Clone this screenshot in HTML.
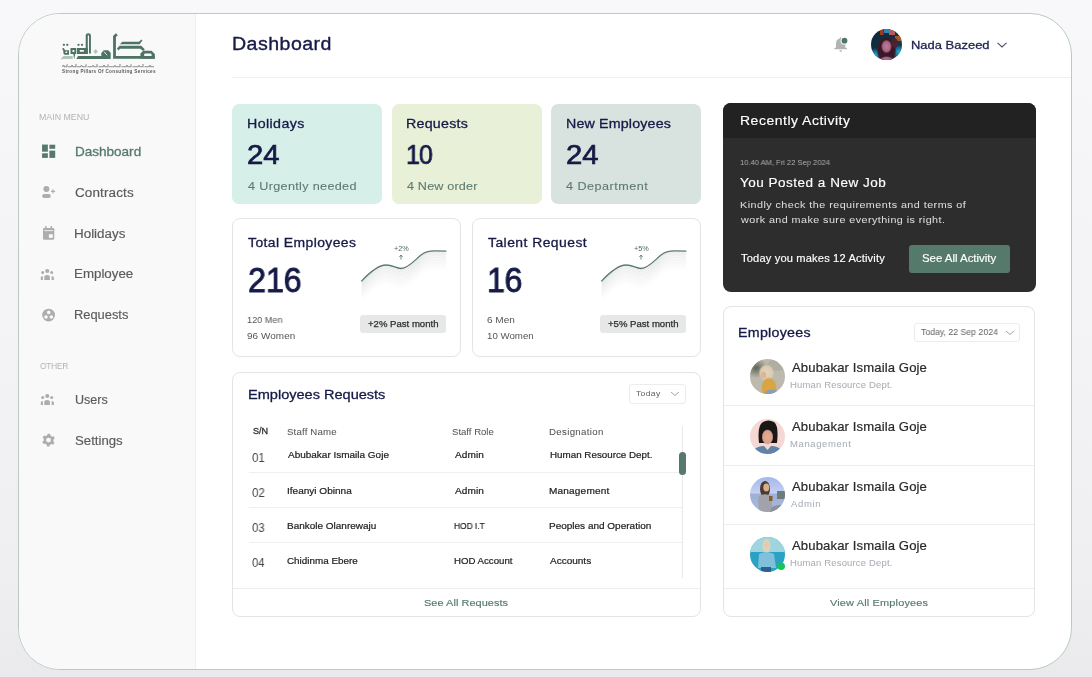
<!DOCTYPE html><html><head><meta charset="utf-8"><style>
*{margin:0;padding:0;box-sizing:border-box}
html,body{width:1092px;height:677px;overflow:hidden}
body{position:relative;background:linear-gradient(#f8f8fa,#f3f3f5 50%,#efeff1 85%,#eaeaec);font-family:"Liberation Sans",sans-serif}
.t{position:absolute;white-space:pre;will-change:transform;font-family:"Liberation Sans",sans-serif}
svg{position:absolute;overflow:visible}
</style></head><body><div style="position:absolute;left:18px;top:13px;width:1054px;height:657px;border:1px solid #b9cbc4;border-radius:42px;background:#fff;overflow:hidden"></div>
<div style="position:absolute;left:19px;top:14px;width:1052px;height:655px;border-radius:41px;overflow:hidden"><div style="position:absolute;left:0;top:0;width:177px;height:655px;background:#f9f9f9;border-right:1px solid #efefef"></div></div>
<div style="position:absolute;left:232px;top:77px;width:839px;height:1px;background:#f0f0f0"></div>
<div style="position:absolute;left:232px;top:104px;width:150px;height:100px;background:#d6efe9;border-radius:7px"></div>
<div style="position:absolute;left:392px;top:104px;width:150px;height:100px;background:#e9f0d8;border-radius:7px"></div>
<div style="position:absolute;left:551px;top:104px;width:150px;height:100px;background:#d8e3e0;border-radius:7px"></div>
<div style="position:absolute;left:232px;top:218px;width:229px;height:139px;border:1px solid #e4e4e4;border-radius:8px;background:#fff"></div>
<div style="position:absolute;left:472px;top:218px;width:229px;height:139px;border:1px solid #e4e4e4;border-radius:8px;background:#fff"></div>
<div style="position:absolute;left:360px;top:315px;width:86px;height:18px;background:#e6e8e7;border-radius:3px"></div>
<div style="position:absolute;left:600px;top:315px;width:86px;height:18px;background:#e6e8e7;border-radius:3px"></div>
<svg style="left:355px;top:240px" width="100" height="60" viewBox="0 0 100 60">
<clipPath id="sc0"><rect x="6.3" y="0" width="85.1" height="60"/></clipPath>
<g clip-path="url(#sc0)"><path d="M6.3 41.4 C16 31 24 25 31 25 C38 25 41 28.5 46 28.5 C53 28.5 60 20 66 15 C70 11.5 74 10.8 80 10.8 C85 10.8 89 11 91.4 11.2" transform="translate(0,1.0)" fill="none" stroke="#5a6a64" stroke-opacity="0.0750" stroke-width="2.2"/><path d="M6.3 41.4 C16 31 24 25 31 25 C38 25 41 28.5 46 28.5 C53 28.5 60 20 66 15 C70 11.5 74 10.8 80 10.8 C85 10.8 89 11 91.4 11.2" transform="translate(0,2.6)" fill="none" stroke="#5a6a64" stroke-opacity="0.0687" stroke-width="2.2"/><path d="M6.3 41.4 C16 31 24 25 31 25 C38 25 41 28.5 46 28.5 C53 28.5 60 20 66 15 C70 11.5 74 10.8 80 10.8 C85 10.8 89 11 91.4 11.2" transform="translate(0,4.2)" fill="none" stroke="#5a6a64" stroke-opacity="0.0625" stroke-width="2.2"/><path d="M6.3 41.4 C16 31 24 25 31 25 C38 25 41 28.5 46 28.5 C53 28.5 60 20 66 15 C70 11.5 74 10.8 80 10.8 C85 10.8 89 11 91.4 11.2" transform="translate(0,5.8)" fill="none" stroke="#5a6a64" stroke-opacity="0.0562" stroke-width="2.2"/><path d="M6.3 41.4 C16 31 24 25 31 25 C38 25 41 28.5 46 28.5 C53 28.5 60 20 66 15 C70 11.5 74 10.8 80 10.8 C85 10.8 89 11 91.4 11.2" transform="translate(0,7.4)" fill="none" stroke="#5a6a64" stroke-opacity="0.0500" stroke-width="2.2"/><path d="M6.3 41.4 C16 31 24 25 31 25 C38 25 41 28.5 46 28.5 C53 28.5 60 20 66 15 C70 11.5 74 10.8 80 10.8 C85 10.8 89 11 91.4 11.2" transform="translate(0,9.0)" fill="none" stroke="#5a6a64" stroke-opacity="0.0437" stroke-width="2.2"/><path d="M6.3 41.4 C16 31 24 25 31 25 C38 25 41 28.5 46 28.5 C53 28.5 60 20 66 15 C70 11.5 74 10.8 80 10.8 C85 10.8 89 11 91.4 11.2" transform="translate(0,10.6)" fill="none" stroke="#5a6a64" stroke-opacity="0.0375" stroke-width="2.2"/><path d="M6.3 41.4 C16 31 24 25 31 25 C38 25 41 28.5 46 28.5 C53 28.5 60 20 66 15 C70 11.5 74 10.8 80 10.8 C85 10.8 89 11 91.4 11.2" transform="translate(0,12.2)" fill="none" stroke="#5a6a64" stroke-opacity="0.0312" stroke-width="2.2"/><path d="M6.3 41.4 C16 31 24 25 31 25 C38 25 41 28.5 46 28.5 C53 28.5 60 20 66 15 C70 11.5 74 10.8 80 10.8 C85 10.8 89 11 91.4 11.2" transform="translate(0,13.8)" fill="none" stroke="#5a6a64" stroke-opacity="0.0250" stroke-width="2.2"/><path d="M6.3 41.4 C16 31 24 25 31 25 C38 25 41 28.5 46 28.5 C53 28.5 60 20 66 15 C70 11.5 74 10.8 80 10.8 C85 10.8 89 11 91.4 11.2" transform="translate(0,15.4)" fill="none" stroke="#5a6a64" stroke-opacity="0.0187" stroke-width="2.2"/><path d="M6.3 41.4 C16 31 24 25 31 25 C38 25 41 28.5 46 28.5 C53 28.5 60 20 66 15 C70 11.5 74 10.8 80 10.8 C85 10.8 89 11 91.4 11.2" transform="translate(0,17.0)" fill="none" stroke="#5a6a64" stroke-opacity="0.0125" stroke-width="2.2"/><path d="M6.3 41.4 C16 31 24 25 31 25 C38 25 41 28.5 46 28.5 C53 28.5 60 20 66 15 C70 11.5 74 10.8 80 10.8 C85 10.8 89 11 91.4 11.2" transform="translate(0,18.6)" fill="none" stroke="#5a6a64" stroke-opacity="0.0063" stroke-width="2.2"/></g>
<path d="M6.3 41.4 C16 31 24 25 31 25 C38 25 41 28.5 46 28.5 C53 28.5 60 20 66 15 C70 11.5 74 10.8 80 10.8 C85 10.8 89 11 91.4 11.2" fill="none" stroke="#5a7a6e" stroke-width="1.3"/>
<path d="M46 19.6 L46 15.3 M44.4 16.9 L46 15.1 L47.6 16.9" fill="none" stroke="#4a6a5e" stroke-width="0.8"/>
</svg>
<svg style="left:595px;top:240px" width="100" height="60" viewBox="0 0 100 60">
<clipPath id="sc240"><rect x="6.3" y="0" width="85.1" height="60"/></clipPath>
<g clip-path="url(#sc240)"><path d="M6.3 41.4 C16 31 24 25 31 25 C38 25 41 28.5 46 28.5 C53 28.5 60 20 66 15 C70 11.5 74 10.8 80 10.8 C85 10.8 89 11 91.4 11.2" transform="translate(0,1.0)" fill="none" stroke="#5a6a64" stroke-opacity="0.0750" stroke-width="2.2"/><path d="M6.3 41.4 C16 31 24 25 31 25 C38 25 41 28.5 46 28.5 C53 28.5 60 20 66 15 C70 11.5 74 10.8 80 10.8 C85 10.8 89 11 91.4 11.2" transform="translate(0,2.6)" fill="none" stroke="#5a6a64" stroke-opacity="0.0687" stroke-width="2.2"/><path d="M6.3 41.4 C16 31 24 25 31 25 C38 25 41 28.5 46 28.5 C53 28.5 60 20 66 15 C70 11.5 74 10.8 80 10.8 C85 10.8 89 11 91.4 11.2" transform="translate(0,4.2)" fill="none" stroke="#5a6a64" stroke-opacity="0.0625" stroke-width="2.2"/><path d="M6.3 41.4 C16 31 24 25 31 25 C38 25 41 28.5 46 28.5 C53 28.5 60 20 66 15 C70 11.5 74 10.8 80 10.8 C85 10.8 89 11 91.4 11.2" transform="translate(0,5.8)" fill="none" stroke="#5a6a64" stroke-opacity="0.0562" stroke-width="2.2"/><path d="M6.3 41.4 C16 31 24 25 31 25 C38 25 41 28.5 46 28.5 C53 28.5 60 20 66 15 C70 11.5 74 10.8 80 10.8 C85 10.8 89 11 91.4 11.2" transform="translate(0,7.4)" fill="none" stroke="#5a6a64" stroke-opacity="0.0500" stroke-width="2.2"/><path d="M6.3 41.4 C16 31 24 25 31 25 C38 25 41 28.5 46 28.5 C53 28.5 60 20 66 15 C70 11.5 74 10.8 80 10.8 C85 10.8 89 11 91.4 11.2" transform="translate(0,9.0)" fill="none" stroke="#5a6a64" stroke-opacity="0.0437" stroke-width="2.2"/><path d="M6.3 41.4 C16 31 24 25 31 25 C38 25 41 28.5 46 28.5 C53 28.5 60 20 66 15 C70 11.5 74 10.8 80 10.8 C85 10.8 89 11 91.4 11.2" transform="translate(0,10.6)" fill="none" stroke="#5a6a64" stroke-opacity="0.0375" stroke-width="2.2"/><path d="M6.3 41.4 C16 31 24 25 31 25 C38 25 41 28.5 46 28.5 C53 28.5 60 20 66 15 C70 11.5 74 10.8 80 10.8 C85 10.8 89 11 91.4 11.2" transform="translate(0,12.2)" fill="none" stroke="#5a6a64" stroke-opacity="0.0312" stroke-width="2.2"/><path d="M6.3 41.4 C16 31 24 25 31 25 C38 25 41 28.5 46 28.5 C53 28.5 60 20 66 15 C70 11.5 74 10.8 80 10.8 C85 10.8 89 11 91.4 11.2" transform="translate(0,13.8)" fill="none" stroke="#5a6a64" stroke-opacity="0.0250" stroke-width="2.2"/><path d="M6.3 41.4 C16 31 24 25 31 25 C38 25 41 28.5 46 28.5 C53 28.5 60 20 66 15 C70 11.5 74 10.8 80 10.8 C85 10.8 89 11 91.4 11.2" transform="translate(0,15.4)" fill="none" stroke="#5a6a64" stroke-opacity="0.0187" stroke-width="2.2"/><path d="M6.3 41.4 C16 31 24 25 31 25 C38 25 41 28.5 46 28.5 C53 28.5 60 20 66 15 C70 11.5 74 10.8 80 10.8 C85 10.8 89 11 91.4 11.2" transform="translate(0,17.0)" fill="none" stroke="#5a6a64" stroke-opacity="0.0125" stroke-width="2.2"/><path d="M6.3 41.4 C16 31 24 25 31 25 C38 25 41 28.5 46 28.5 C53 28.5 60 20 66 15 C70 11.5 74 10.8 80 10.8 C85 10.8 89 11 91.4 11.2" transform="translate(0,18.6)" fill="none" stroke="#5a6a64" stroke-opacity="0.0063" stroke-width="2.2"/></g>
<path d="M6.3 41.4 C16 31 24 25 31 25 C38 25 41 28.5 46 28.5 C53 28.5 60 20 66 15 C70 11.5 74 10.8 80 10.8 C85 10.8 89 11 91.4 11.2" fill="none" stroke="#5a7a6e" stroke-width="1.3"/>
<path d="M46 19.6 L46 15.3 M44.4 16.9 L46 15.1 L47.6 16.9" fill="none" stroke="#4a6a5e" stroke-width="0.8"/>
</svg>
<div style="position:absolute;left:232px;top:372px;width:469px;height:245px;border:1px solid #e4e4e4;border-radius:8px;background:#fff"></div>
<div style="position:absolute;left:233px;top:588px;width:467px;height:1px;background:#ececec"></div>
<div style="position:absolute;left:629px;top:384px;width:57px;height:20px;border:1px solid #ececec;border-radius:3px"></div>
<svg style="left:670px;top:391px" width="10" height="6" viewBox="0 0 10 6"><path d="M1 1 L5 4.5 L9 1" fill="none" stroke="#9a9a9a" stroke-width="0.9"/></svg>
<div style="position:absolute;left:249px;top:472px;width:434px;height:1px;background:#efefef"></div>
<div style="position:absolute;left:249px;top:507px;width:434px;height:1px;background:#efefef"></div>
<div style="position:absolute;left:249px;top:542px;width:434px;height:1px;background:#efefef"></div>
<div style="position:absolute;left:682px;top:426px;width:1px;height:152px;background:#e8e8e8"></div>
<div style="position:absolute;left:679px;top:452px;width:7px;height:23px;background:#557a6c;border-radius:3.5px"></div>
<div style="position:absolute;left:723px;top:103px;width:312.5px;height:189px;background:#2d2d2d;border-radius:8px;overflow:hidden"></div>
<div style="position:absolute;left:723px;top:103px;width:312.5px;height:35px;background:#222222;border-radius:8px 8px 0 0"></div>
<div style="position:absolute;left:909px;top:245px;width:101px;height:28px;background:#557a6c;border-radius:3px"></div>
<div style="position:absolute;left:723px;top:306px;width:312px;height:311px;border:1px solid #e4e4e4;border-radius:8px;background:#fff"></div>
<div style="position:absolute;left:914px;top:323px;width:106px;height:19px;border:1px solid #ececec;border-radius:3px"></div>
<svg style="left:1005px;top:330px" width="10" height="6" viewBox="0 0 10 6"><path d="M1 1 L5 4.5 L9 1" fill="none" stroke="#9a9a9a" stroke-width="0.9"/></svg>
<div style="position:absolute;left:724px;top:405px;width:310px;height:1px;background:#ececec"></div>
<div style="position:absolute;left:724px;top:465px;width:310px;height:1px;background:#ececec"></div>
<div style="position:absolute;left:724px;top:524px;width:310px;height:1px;background:#ececec"></div>
<div style="position:absolute;left:724px;top:588px;width:310px;height:1px;background:#ececec"></div>
<svg style="left:0;top:0" width="1" height="1">
<rect x="42.06" y="144.55" width="5.8" height="7.15" fill="#557a6c" />
<rect x="42.06" y="153.3" width="5.8" height="4.6" fill="#557a6c" />
<rect x="49.4" y="144.7" width="5.8" height="4.1" fill="#557a6c" />
<rect x="49.4" y="150.6" width="5.8" height="7.3" fill="#557a6c" />
<circle cx="46.4" cy="189.1" r="3.0" fill="#adadad"/>
<rect x="42.1" y="193.9" width="8.7" height="4" rx="2" fill="#adadad"/>
<path d="M51 191.4 H55.1 M53 189.3 V193.5" stroke="#adadad" stroke-width="1.1"/>
<rect x="43" y="228" width="11.25" height="11.8" rx="1.3" fill="#adadad"/>
<rect x="45.1" y="226" width="1.5" height="3" rx="0.5" fill="#adadad"/>
<rect x="50.6" y="226" width="1.5" height="3" rx="0.5" fill="#adadad"/>
<rect x="44.2" y="230.3" width="8.8" height="0.8" fill="#f9f9f9"/>
<rect x="48.9" y="234.2" width="3.9" height="3.7" fill="#f9f9f9"/>
<g fill="#adadad">
<circle cx="47.26" cy="271" r="2.1"/><circle cx="42.7" cy="272.4" r="1.5"/><circle cx="51.7" cy="272.4" r="1.5"/>
<path d="M44.3 279.9 V277 Q44.3 275 47.1 275 Q49.9 275 49.9 277 V279.9 Z"/>
<path d="M40.8 279.9 V277.6 Q40.8 276 42.9 276 V279.9 Z"/>
<path d="M53.9 279.9 V277.6 Q53.9 276 51.6 276 V279.9 Z"/>
</g>
<g fill="#adadad" transform="translate(0,125)">
<circle cx="47.26" cy="271" r="2.1"/><circle cx="42.7" cy="272.4" r="1.5"/><circle cx="51.7" cy="272.4" r="1.5"/>
<path d="M44.3 279.9 V277 Q44.3 275 47.1 275 Q49.9 275 49.9 277 V279.9 Z"/>
<path d="M40.8 279.9 V277.6 Q40.8 276 42.9 276 V279.9 Z"/>
<path d="M53.9 279.9 V277.6 Q53.9 276 51.6 276 V279.9 Z"/>
</g>
<circle cx="48.6" cy="315.05" r="6.4" fill="#adadad"/>
<circle cx="48.7" cy="312.4" r="1.8" fill="#f9f9f9"/>
<circle cx="46" cy="317" r="1.8" fill="#f9f9f9"/>
<circle cx="51.3" cy="317" r="1.8" fill="#f9f9f9"/>
</svg>
<svg style="left:0;top:0" width="1" height="1"><path fill-rule="evenodd" fill="#adadad" d="M48.56,433.70 L49.40,433.75 L50.22,433.92 L50.44,435.57 L51.01,435.86 L51.54,436.21 L52.02,436.64 L53.64,436.20 L54.10,436.90 L54.47,437.65 L54.74,438.44 L53.42,439.46 L53.46,440.10 L53.42,440.74 L53.29,441.37 L54.47,442.55 L54.10,443.30 L53.64,444.00 L53.09,444.63 L51.54,443.99 L51.01,444.34 L50.44,444.63 L49.83,444.83 L49.40,446.45 L48.56,446.50 L47.72,446.45 L46.90,446.28 L46.68,444.63 L46.11,444.34 L45.58,443.99 L45.10,443.56 L43.48,444.00 L43.02,443.30 L42.65,442.55 L42.38,441.76 L43.70,440.74 L43.66,440.10 L43.70,439.46 L43.83,438.83 L42.65,437.65 L43.02,436.90 L43.48,436.20 L44.03,435.57 L45.58,436.21 L46.11,435.86 L46.68,435.57 L47.29,435.37 L47.72,433.75 Z M50.96,440.1 A2.4 2.4 0 1 0 46.160000000000004,440.1 A2.4 2.4 0 1 0 50.96,440.1 Z"/></svg>
<svg style="left:0;top:0" width="1" height="1">
<path d="M840.7 37.3 Q841.8 37.3 841.8 38.6 Q845.3 39.8 845.3 43.5 V47.6 L847 48.3 V49.3 H834.3 V48.3 L836 47.6 V43.5 Q836 39.8 839.6 38.6 Q839.6 37.3 840.7 37.3 Z" fill="#b3b3b3"/>
<path d="M839.4 50.2 H842 Q842 51.8 840.7 51.8 Q839.4 51.8 839.4 50.2 Z" fill="#b3b3b3"/>
<circle cx="844.5" cy="40.7" r="3.9" fill="#fff"/>
<circle cx="844.5" cy="40.7" r="2.9" fill="#4f7566"/>
<path d="M997.5 42.8 L1002 47 L1006.5 42.8" fill="none" stroke="#4a4f6a" stroke-width="1.1"/>
</svg>
<svg style="left:871.3px;top:28.799999999999997px" width="31.0" height="31.0" viewBox="0 0 31.0 31.0">
<defs><clipPath id="c88644"><circle cx="15.5" cy="15.5" r="15.5"/></clipPath></defs>
<g clip-path="url(#c88644)">
<defs>
<radialGradient id="ha1" cx="0.5" cy="0.5" r="0.5"><stop offset="0" stop-color="#c07a9a"/><stop offset="0.7" stop-color="#a86584"/><stop offset="1" stop-color="#a86584" stop-opacity="0"/></radialGradient>
<radialGradient id="ha2" cx="0.5" cy="0.5" r="0.5"><stop offset="0" stop-color="#3a1726"/><stop offset="0.8" stop-color="#3a1726"/><stop offset="1" stop-color="#3a1726" stop-opacity="0"/></radialGradient>
<radialGradient id="ha3" cx="0.5" cy="0.5" r="0.5"><stop offset="0" stop-color="#22b0e0"/><stop offset="1" stop-color="#22b0e0" stop-opacity="0"/></radialGradient>
<linearGradient id="ha0" x1="0" y1="0" x2="1" y2="1"><stop offset="0" stop-color="#0d2331"/><stop offset="1" stop-color="#17415a"/></linearGradient>
</defs>
<rect x="-2" y="-2" width="35" height="35" fill="url(#ha0)"/>
<rect x="9" y="-2" width="3.5" height="8" fill="#9a3f25"/>
<rect x="13" y="-2" width="5" height="6" fill="#2f86b8"/>
<rect x="18" y="1" width="6" height="5" fill="#b85a66"/>
<rect x="24" y="7" width="6" height="5" fill="#a85a26"/>
<ellipse cx="4" cy="26" rx="8" ry="7" fill="url(#ha3)"/>
<ellipse cx="28" cy="23" rx="7" ry="7" fill="url(#ha3)"/>
<ellipse cx="15.5" cy="21" rx="10" ry="14" fill="url(#ha2)"/>
<ellipse cx="15.5" cy="17.5" rx="5.5" ry="7" fill="url(#ha1)"/>
<ellipse cx="15.5" cy="32" rx="8" ry="5" fill="url(#ha1)"/>
<ellipse cx="23.5" cy="14" rx="3.5" ry="5" fill="#4a2232"/>
</g></svg>
<svg style="left:750.1px;top:359.1px" width="35.0" height="35.0" viewBox="0 0 35.0 35.0">
<defs><clipPath id="c767376"><circle cx="17.5" cy="17.5" r="17.5"/></clipPath></defs>
<g clip-path="url(#c767376)">
<defs>
<radialGradient id="a1h" cx="0.5" cy="0.5" r="0.5"><stop offset="0" stop-color="#e2d6bd"/><stop offset="0.75" stop-color="#d8cbb0"/><stop offset="1" stop-color="#d8cbb0" stop-opacity="0"/></radialGradient>
<radialGradient id="a1g" cx="0.5" cy="0.5" r="0.5"><stop offset="0" stop-color="#5e6656"/><stop offset="1" stop-color="#5e6656" stop-opacity="0"/></radialGradient>
<radialGradient id="a1y" cx="0.5" cy="0.5" r="0.5"><stop offset="0" stop-color="#dca640"/><stop offset="0.8" stop-color="#d8a444"/><stop offset="1" stop-color="#d8a444" stop-opacity="0"/></radialGradient>
</defs>
<rect width="35" height="35" fill="#bdb9ad"/>
<ellipse cx="6" cy="9" rx="12" ry="10" fill="url(#a1g)"/>
<ellipse cx="27" cy="6" rx="10" ry="6" fill="#a7a69a" opacity="0.6"/>
<ellipse cx="16.5" cy="14" rx="8" ry="9" fill="url(#a1h)"/>
<ellipse cx="13.5" cy="16" rx="2.8" ry="3.6" fill="#e0b596"/>
<ellipse cx="19" cy="29" rx="8" ry="11" fill="url(#a1y)"/>
<ellipse cx="22" cy="34" rx="7" ry="3.5" fill="#8b9fb4"/>
</g></svg>
<svg style="left:750.1px;top:418.6px" width="35.0" height="35.0" viewBox="0 0 35.0 35.0">
<defs><clipPath id="c767436"><circle cx="17.5" cy="17.5" r="17.5"/></clipPath></defs>
<g clip-path="url(#c767436)">
<defs>
<radialGradient id="a2s" cx="0.5" cy="0.5" r="0.5"><stop offset="0" stop-color="#e4ad96"/><stop offset="0.8" stop-color="#d9a08a"/><stop offset="1" stop-color="#d9a08a" stop-opacity="0"/></radialGradient>
</defs>
<rect width="35" height="35" fill="#f5d8d3"/>
<path d="M9 24 Q7 6 13 3 Q18 0 24 3 Q29 7 27 24 Z" fill="#1c1717"/>
<ellipse cx="17.5" cy="18" rx="6" ry="8" fill="url(#a2s)"/>
<path d="M11 9 Q17 4 24 10 L24 13 Q18 8 11 12 Z" fill="#1c1717"/>
<path d="M1 33 Q8 26 14 27 L17.5 31 L21 27 Q27 26 34 33 V35 H1 Z" fill="#5f83aa"/>
</g></svg>
<svg style="left:750.1px;top:477.3px" width="35.0" height="35.0" viewBox="0 0 35.0 35.0">
<defs><clipPath id="c767494"><circle cx="17.5" cy="17.5" r="17.5"/></clipPath></defs>
<g clip-path="url(#c767494)">
<defs>
<linearGradient id="a3b" x1="0" y1="0" x2="0" y2="1"><stop offset="0" stop-color="#a6b7ea"/><stop offset="0.45" stop-color="#c3d0f2"/><stop offset="0.5" stop-color="#9fb0d8"/><stop offset="1" stop-color="#a8b9e0"/></linearGradient>
</defs>
<rect width="35" height="35" fill="url(#a3b)"/>
<rect x="27" y="14" width="8" height="8" fill="#707c7c"/>
<ellipse cx="15" cy="12" rx="5" ry="8" fill="#4e3b2e"/>
<ellipse cx="16.3" cy="10.5" rx="3" ry="4" fill="#d7ad8e"/>
<path d="M8 20 Q14 15 21 19 L23 35 H9 Z" fill="#a2a3aa"/>
<rect x="19" y="19" width="3.5" height="5" fill="#8a5a2a"/>
<path d="M22 30 Q28 27 35 28 V35 H20 Z" fill="#8c9298"/>
</g></svg>
<svg style="left:750.1px;top:536.6px" width="35.0" height="35.0" viewBox="0 0 35.0 35.0">
<defs><clipPath id="c767554"><circle cx="17.5" cy="17.5" r="17.5"/></clipPath></defs>
<g clip-path="url(#c767554)">
<rect width="35" height="35" fill="#2aa2c4"/>
<rect width="35" height="15" fill="#a0d4df"/>
<ellipse cx="16.5" cy="9" rx="4" ry="7" fill="#ddd3b8"/>
<ellipse cx="16.5" cy="8" rx="2.4" ry="3.2" fill="#e8c8ae"/>
<path d="M9 17 Q16 13 24 17 L26 31 H8 Z" fill="#80c0da"/>
<rect x="11" y="30" width="10" height="6" fill="#2e5f94"/>
</g><circle cx="31.2" cy="29.2" r="3.8" fill="#18c35a"/></svg>
<svg style="left:0;top:0" width="1" height="1">
<g fill="#4d7364">
<path d="M85.7 53.6 V35.3 Q85.7 33.3 88.3 33.3 Q90.9 33.3 90.9 35.3 V53.6 H89 V35.8 Q89 35.2 88.3 35.2 Q87.8 35.2 87.8 35.8 V53.6 Z"/>
<path d="M77 47.9 H87.8 V53.9 H77 Z M79.8 49.9 V51.8 H83.8 V49.9 Z" fill-rule="evenodd"/>
<path d="M70.5 48 H76.3 V54 H75.2 L74.1 59.4 L73.4 54 H70.5 Z M72.5 50 V52 H74.3 V50 Z" fill-rule="evenodd"/>
<path d="M62.2 48.3 L63.6 47.9 L65.2 50.2 H69 V54.7 H65 Q63.4 54.7 63.4 53 V51.5 Z M65.4 51.6 V52.9 H67.2 V51.6 Z" fill-rule="evenodd"/>
<circle cx="63.9" cy="44.8" r="1.15"/><circle cx="67.3" cy="44.8" r="1.15"/>
<circle cx="78.5" cy="44.8" r="1.15"/><circle cx="82" cy="44.8" r="1.15"/>
<path d="M76.3 59 L78 55.9 H110.7 V59 Z"/>
<path d="M101.3 55.9 V53.3 L103.6 50.3 H108.2 L110.7 52.8 V55.9 Z"/>
<path d="M113.1 58.8 V36.1 L115.9 33.3 L117.8 35.2 L115.9 37.1 V55.9 H154.8 V58.8 Z"/>
<path d="M119.8 44.3 L122.4 41.7 H138.9 L141.4 39.4 L142.4 40.4 L139.6 44.3 Z"/>
<path d="M116.9 48.6 L119.6 45.7 H141.2 L144.8 49.2 L143.1 51 L140.4 48.8 H120 L118.5 50.4 Z"/>
<path d="M140.4 58.8 V53.6 L143.3 50.7 H151.6 L154.8 53.9 V58.8 Z M144.2 55.9 H151.6 V54.3 L150.9 53.5 H144.9 L144.2 54.1 Z" fill-rule="evenodd"/>
</g>
<path d="M104 51.6 L107 55.2" stroke="#f9f9f9" stroke-width="0.9"/>
<path d="M60.2 59.4 L63.5 56.1 H72.7 V59 H63.2 Z" fill="#b2c6be"/>
<path d="M95.6 49.1 L98 51.5 L95.6 53.9 L93.2 51.5 Z" fill="#b4c7bf"/>
<g fill="none" stroke="#8d908f" stroke-width="1.1" stroke-linejoin="round">
<path d="M62.5 66.8 Q63.5 64 64.5 66.8 H67 V64.3 M68 66.8 H71 Q72 64.5 73 66.8 H76 V64 M77 66.8 H80.5 Q81.5 64.3 82.5 66.8 H86 V64.3 M87.5 66.8 H92 Q93 64.3 94 66.8 H97 V64 M98.5 66.8 H103 Q104 64.5 105 66.8 H108 V64.3 M109 66.8 H114 Q115 64.3 116 66.8 H120 V64 M121.5 66.8 H126 Q127 64.5 128 66.8 H131 V64.3 M132.5 66.8 H138 Q139 64.3 140 66.8 H143 V64 M144.5 66.8 H149 Q150 64.5 151 66.8 H154"/>
</g>
</svg>
<div class="t" style="left:62px;top:68.6px;font-size:4.6px;line-height:5px;font-weight:bold;color:#5a5a5a;letter-spacing:0.33px">Strong Pillars Of Consulting Services</div>
<div class="t" style="left:231.79px;top:33.89px;font-size:17.81px;line-height:21.37px;color:#161a46;letter-spacing:0.420px;-webkit-text-stroke:0.35px currentColor;transform:scaleX(1.1000);transform-origin:0 0;">Dashboard</div>
<div class="t" style="left:911.00px;top:38.11px;font-size:11.77px;line-height:14.12px;color:#1d2150;letter-spacing:0.011px;-webkit-text-stroke:0.3px currentColor;transform:scaleX(1.1000);transform-origin:0 0;">Nada Bazeed</div>
<div class="t" style="left:39.28px;top:112.00px;font-size:8.72px;line-height:10.46px;color:#b3b3b3;letter-spacing:0.000px;transform:scaleX(1.0103);transform-origin:0 0;">MAIN MENU</div>
<div class="t" style="left:74.65px;top:144.56px;font-size:12.35px;line-height:14.82px;color:#557a6c;letter-spacing:0.000px;-webkit-text-stroke:0.3px currentColor;transform:scaleX(1.0954);transform-origin:0 0;">Dashboard</div>
<div class="t" style="left:74.80px;top:185.52px;font-size:12.28px;line-height:14.74px;color:#5b5b5b;letter-spacing:0.109px;-webkit-text-stroke:0.15px currentColor;transform:scaleX(1.1000);transform-origin:0 0;">Contracts</div>
<div class="t" style="left:74.38px;top:226.52px;font-size:12.28px;line-height:14.74px;color:#5b5b5b;letter-spacing:0.000px;-webkit-text-stroke:0.15px currentColor;transform:scaleX(1.0930);transform-origin:0 0;">Holidays</div>
<div class="t" style="left:74.39px;top:267.42px;font-size:12.28px;line-height:14.74px;color:#5b5b5b;letter-spacing:-0.000px;-webkit-text-stroke:0.15px currentColor;transform:scaleX(1.0857);transform-origin:0 0;">Employee</div>
<div class="t" style="left:74.42px;top:308.22px;font-size:12.28px;line-height:14.74px;color:#5b5b5b;letter-spacing:0.000px;-webkit-text-stroke:0.15px currentColor;transform:scaleX(1.0489);transform-origin:0 0;">Requests</div>
<div class="t" style="left:74.51px;top:393.42px;font-size:12.28px;line-height:14.74px;color:#5b5b5b;letter-spacing:0.000px;-webkit-text-stroke:0.15px currentColor;transform:scaleX(1.0231);transform-origin:0 0;">Users</div>
<div class="t" style="left:74.88px;top:433.82px;font-size:12.28px;line-height:14.74px;color:#5b5b5b;letter-spacing:0.000px;-webkit-text-stroke:0.15px currentColor;transform:scaleX(1.0764);transform-origin:0 0;">Settings</div>
<div class="t" style="left:39.81px;top:360.92px;font-size:9.01px;line-height:10.81px;color:#b3b3b3;letter-spacing:-0.218px;transform:scaleX(0.9200);transform-origin:0 0;">OTHER</div>
<div class="t" style="left:246.80px;top:116.10px;font-size:12.94px;line-height:15.53px;color:#161a46;letter-spacing:0.359px;-webkit-text-stroke:0.3px currentColor;transform:scaleX(1.1000);transform-origin:0 0;">Holidays</div>
<div class="t" style="left:247.00px;top:139.37px;font-size:27.33px;line-height:32.8px;color:#161a46;letter-spacing:0.000px;-webkit-text-stroke:0.7px currentColor;transform:scaleX(1.0715);transform-origin:0 0;">24</div>
<div class="t" style="left:247.57px;top:180.28px;font-size:11.48px;line-height:13.78px;color:#5e7a71;letter-spacing:0.306px;-webkit-text-stroke:0.1px currentColor;transform:scaleX(1.1000);transform-origin:0 0;">4 Urgently needed</div>
<div class="t" style="left:405.80px;top:116.10px;font-size:12.94px;line-height:15.53px;color:#161a46;letter-spacing:0.225px;-webkit-text-stroke:0.3px currentColor;transform:scaleX(1.1000);transform-origin:0 0;">Requests</div>
<div class="t" style="left:405.51px;top:139.37px;font-size:27.33px;line-height:32.8px;color:#161a46;letter-spacing:-1.109px;-webkit-text-stroke:0.7px currentColor;transform:scaleX(0.9200);transform-origin:0 0;">10</div>
<div class="t" style="left:406.57px;top:180.28px;font-size:11.48px;line-height:13.78px;color:#5e7a71;letter-spacing:0.152px;-webkit-text-stroke:0.1px currentColor;transform:scaleX(1.1000);transform-origin:0 0;">4 New order</div>
<div class="t" style="left:565.60px;top:116.10px;font-size:12.94px;line-height:15.53px;color:#161a46;letter-spacing:0.153px;-webkit-text-stroke:0.3px currentColor;transform:scaleX(1.1000);transform-origin:0 0;">New Employees</div>
<div class="t" style="left:565.80px;top:139.37px;font-size:27.33px;line-height:32.8px;color:#161a46;letter-spacing:0.000px;-webkit-text-stroke:0.7px currentColor;transform:scaleX(1.0715);transform-origin:0 0;">24</div>
<div class="t" style="left:566.37px;top:180.28px;font-size:11.48px;line-height:13.78px;color:#5e7a71;letter-spacing:0.440px;-webkit-text-stroke:0.1px currentColor;transform:scaleX(1.1000);transform-origin:0 0;">4 Department</div>
<div class="t" style="left:247.75px;top:236.47px;font-size:12.65px;line-height:15.18px;color:#161a46;letter-spacing:0.387px;-webkit-text-stroke:0.3px currentColor;transform:scaleX(1.1000);transform-origin:0 0;">Total Employees</div>
<div class="t" style="left:247.69px;top:259.36px;font-size:35.17px;line-height:42.2px;color:#161a46;letter-spacing:-0.140px;-webkit-text-stroke:0.9px currentColor;transform:scaleX(0.9200);transform-origin:0 0;">216</div>
<div class="t" style="left:246.90px;top:314.65px;font-size:9.3px;line-height:11.16px;color:#555555;letter-spacing:0.000px;transform:scaleX(0.9835);transform-origin:0 0;">120 Men</div>
<div class="t" style="left:247.14px;top:330.92px;font-size:9.01px;line-height:10.81px;color:#555555;letter-spacing:0.080px;transform:scaleX(1.1000);transform-origin:0 0;">96 Women</div>
<div class="t" style="left:393.65px;top:244.77px;font-size:7.27px;line-height:8.72px;color:#4a6a5e;letter-spacing:0.000px;transform:scaleX(0.9904);transform-origin:0 0;">+2%</div>
<div class="t" style="left:367.97px;top:319.13px;font-size:8.79px;line-height:10.55px;color:#2e2e2e;letter-spacing:-0.000px;-webkit-text-stroke:0.25px currentColor;transform:scaleX(1.0901);transform-origin:0 0;">+2% Past month</div>
<div class="t" style="left:487.75px;top:236.47px;font-size:12.65px;line-height:15.18px;color:#161a46;letter-spacing:0.414px;-webkit-text-stroke:0.3px currentColor;transform:scaleX(1.1000);transform-origin:0 0;">Talent Request</div>
<div class="t" style="left:486.85px;top:259.36px;font-size:35.17px;line-height:42.2px;color:#161a46;letter-spacing:-0.459px;-webkit-text-stroke:0.9px currentColor;transform:scaleX(0.9200);transform-origin:0 0;">16</div>
<div class="t" style="left:487.09px;top:314.65px;font-size:9.3px;line-height:11.16px;color:#555555;letter-spacing:-0.000px;transform:scaleX(1.0780);transform-origin:0 0;">6 Men</div>
<div class="t" style="left:486.86px;top:330.92px;font-size:9.01px;line-height:10.81px;color:#555555;letter-spacing:-0.000px;transform:scaleX(1.0763);transform-origin:0 0;">10 Women</div>
<div class="t" style="left:633.65px;top:244.77px;font-size:7.27px;line-height:8.72px;color:#4a6a5e;letter-spacing:0.000px;transform:scaleX(0.9904);transform-origin:0 0;">+5%</div>
<div class="t" style="left:607.97px;top:319.13px;font-size:8.79px;line-height:10.55px;color:#2e2e2e;letter-spacing:-0.000px;-webkit-text-stroke:0.25px currentColor;transform:scaleX(1.0901);transform-origin:0 0;">+5% Past month</div>
<div class="t" style="left:248.27px;top:386.55px;font-size:13.52px;line-height:16.22px;color:#161a46;letter-spacing:0.000px;-webkit-text-stroke:0.3px currentColor;transform:scaleX(1.0758);transform-origin:0 0;">Employees Requests</div>
<div class="t" style="left:635.51px;top:389.12px;font-size:7.85px;line-height:9.42px;color:#606060;letter-spacing:0.268px;transform:scaleX(1.1000);transform-origin:0 0;">Today</div>
<div class="t" style="left:252.65px;top:426.91px;font-size:8.28px;line-height:9.94px;color:#333333;letter-spacing:0.000px;-webkit-text-stroke:0.3px currentColor;transform:scaleX(1.0975);transform-origin:0 0;">S/N</div>
<div class="t" style="left:286.84px;top:427.23px;font-size:8.79px;line-height:10.55px;color:#555555;letter-spacing:0.149px;-webkit-text-stroke:0.05px currentColor;transform:scaleX(1.1000);transform-origin:0 0;">Staff Name</div>
<div class="t" style="left:451.99px;top:427.23px;font-size:8.79px;line-height:10.55px;color:#555555;letter-spacing:0.000px;-webkit-text-stroke:0.05px currentColor;transform:scaleX(1.0885);transform-origin:0 0;">Staff Role</div>
<div class="t" style="left:549.43px;top:427.23px;font-size:8.79px;line-height:10.55px;color:#555555;letter-spacing:0.303px;-webkit-text-stroke:0.05px currentColor;transform:scaleX(1.1000);transform-origin:0 0;">Designation</div>
<div class="t" style="left:251.65px;top:450.93px;font-size:12.06px;line-height:14.47px;color:#444444;letter-spacing:0.000px;transform:scaleX(0.9477);transform-origin:0 0;">01</div>
<div class="t" style="left:287.89px;top:450.48px;font-size:9.16px;line-height:10.99px;color:#222222;letter-spacing:0.000px;-webkit-text-stroke:0.2px currentColor;transform:scaleX(1.0896);transform-origin:0 0;">Abubakar Ismaila Goje</div>
<div class="t" style="left:454.89px;top:450.48px;font-size:9.16px;line-height:10.99px;color:#222222;letter-spacing:0.088px;-webkit-text-stroke:0.2px currentColor;transform:scaleX(1.1000);transform-origin:0 0;">Admin</div>
<div class="t" style="left:549.50px;top:450.48px;font-size:9.16px;line-height:10.99px;color:#222222;letter-spacing:0.000px;-webkit-text-stroke:0.2px currentColor;transform:scaleX(1.0711);transform-origin:0 0;">Human Resource Dept.</div>
<div class="t" style="left:251.65px;top:486.03px;font-size:12.06px;line-height:14.47px;color:#444444;letter-spacing:0.000px;transform:scaleX(0.9490);transform-origin:0 0;">02</div>
<div class="t" style="left:286.98px;top:485.58px;font-size:9.16px;line-height:10.99px;color:#222222;letter-spacing:0.000px;-webkit-text-stroke:0.2px currentColor;transform:scaleX(1.0959);transform-origin:0 0;">Ifeanyi Obinna</div>
<div class="t" style="left:454.89px;top:485.58px;font-size:9.16px;line-height:10.99px;color:#222222;letter-spacing:0.088px;-webkit-text-stroke:0.2px currentColor;transform:scaleX(1.1000);transform-origin:0 0;">Admin</div>
<div class="t" style="left:549.48px;top:485.58px;font-size:9.16px;line-height:10.99px;color:#222222;letter-spacing:0.150px;-webkit-text-stroke:0.2px currentColor;transform:scaleX(1.1000);transform-origin:0 0;">Management</div>
<div class="t" style="left:251.66px;top:521.13px;font-size:12.06px;line-height:14.47px;color:#444444;letter-spacing:0.000px;transform:scaleX(0.9432);transform-origin:0 0;">03</div>
<div class="t" style="left:287.09px;top:520.68px;font-size:9.16px;line-height:10.99px;color:#222222;letter-spacing:0.000px;-webkit-text-stroke:0.2px currentColor;transform:scaleX(1.0892);transform-origin:0 0;">Bankole Olanrewaju</div>
<div class="t" style="left:454.20px;top:520.68px;font-size:9.16px;line-height:10.99px;color:#222222;letter-spacing:-0.035px;-webkit-text-stroke:0.2px currentColor;transform:scaleX(0.9200);transform-origin:0 0;">HOD I.T</div>
<div class="t" style="left:549.49px;top:520.68px;font-size:9.16px;line-height:10.99px;color:#222222;letter-spacing:0.000px;-webkit-text-stroke:0.2px currentColor;transform:scaleX(1.0916);transform-origin:0 0;">Peoples and Operation</div>
<div class="t" style="left:251.66px;top:556.23px;font-size:12.06px;line-height:14.47px;color:#444444;letter-spacing:0.000px;transform:scaleX(0.9299);transform-origin:0 0;">04</div>
<div class="t" style="left:287.41px;top:555.78px;font-size:9.16px;line-height:10.99px;color:#222222;letter-spacing:0.000px;-webkit-text-stroke:0.2px currentColor;transform:scaleX(1.0772);transform-origin:0 0;">Chidinma Ebere</div>
<div class="t" style="left:454.11px;top:555.78px;font-size:9.16px;line-height:10.99px;color:#222222;letter-spacing:0.000px;-webkit-text-stroke:0.2px currentColor;transform:scaleX(1.0535);transform-origin:0 0;">HOD Account</div>
<div class="t" style="left:550.29px;top:555.78px;font-size:9.16px;line-height:10.99px;color:#222222;letter-spacing:0.000px;-webkit-text-stroke:0.2px currentColor;transform:scaleX(1.0927);transform-origin:0 0;">Accounts</div>
<div class="t" style="left:424.48px;top:596.62px;font-size:9.96px;line-height:11.95px;color:#557a6c;letter-spacing:0.038px;-webkit-text-stroke:0.15px currentColor;transform:scaleX(1.1000);transform-origin:0 0;">See All Requests</div>
<div class="t" style="left:739.63px;top:113.21px;font-size:12.72px;line-height:15.26px;color:#ffffff;letter-spacing:0.462px;-webkit-text-stroke:0.15px currentColor;transform:scaleX(1.1000);transform-origin:0 0;">Recently Activity</div>
<div class="t" style="left:740.12px;top:158.46px;font-size:7.7px;line-height:9.24px;color:#b0b0b0;letter-spacing:0.000px;transform:scaleX(0.9817);transform-origin:0 0;">10.40 AM, Fri 22 Sep 2024</div>
<div class="t" style="left:740.49px;top:175.62px;font-size:12.28px;line-height:14.74px;color:#ffffff;letter-spacing:0.463px;-webkit-text-stroke:0.15px currentColor;transform:scaleX(1.1000);transform-origin:0 0;">You Posted a New Job</div>
<div class="t" style="left:739.84px;top:199.36px;font-size:9.81px;line-height:11.77px;color:#dcdcdc;letter-spacing:0.411px;-webkit-text-stroke:0.05px currentColor;transform:scaleX(1.1000);transform-origin:0 0;">Kindly check the requirements and terms of</div>
<div class="t" style="left:740.94px;top:213.76px;font-size:9.81px;line-height:11.77px;color:#dcdcdc;letter-spacing:0.393px;-webkit-text-stroke:0.05px currentColor;transform:scaleX(1.1000);transform-origin:0 0;">work and make sure everything is right.</div>
<div class="t" style="left:740.73px;top:252.79px;font-size:10.1px;line-height:12.12px;color:#ffffff;letter-spacing:0.148px;-webkit-text-stroke:0.15px currentColor;transform:scaleX(1.1000);transform-origin:0 0;">Today you makes 12 Activity</div>
<div class="t" style="left:922.36px;top:253.41px;font-size:10.39px;line-height:12.47px;color:#ffffff;letter-spacing:0.000px;-webkit-text-stroke:0.15px currentColor;transform:scaleX(1.0994);transform-origin:0 0;">See All Activity</div>
<div class="t" style="left:738.00px;top:324.80px;font-size:12.94px;line-height:15.53px;color:#161a46;letter-spacing:0.245px;-webkit-text-stroke:0.3px currentColor;transform:scaleX(1.1000);transform-origin:0 0;">Employees</div>
<div class="t" style="left:920.80px;top:326.72px;font-size:9.01px;line-height:10.81px;color:#606060;letter-spacing:0.000px;transform:scaleX(0.9678);transform-origin:0 0;">Today, 22 Sep 2024</div>
<div class="t" style="left:791.58px;top:361.07px;font-size:11.92px;line-height:14.3px;color:#2a2a2a;letter-spacing:0.109px;-webkit-text-stroke:0.2px currentColor;transform:scaleX(1.1000);transform-origin:0 0;">Abubakar Ismaila Goje</div>
<div class="t" style="left:790.45px;top:380.06px;font-size:8.65px;line-height:10.38px;color:#a9aeb6;letter-spacing:0.156px;-webkit-text-stroke:0.05px currentColor;transform:scaleX(1.1000);transform-origin:0 0;">Human Resource Dept.</div>
<div class="t" style="left:791.58px;top:420.47px;font-size:11.92px;line-height:14.3px;color:#2a2a2a;letter-spacing:0.109px;-webkit-text-stroke:0.2px currentColor;transform:scaleX(1.1000);transform-origin:0 0;">Abubakar Ismaila Goje</div>
<div class="t" style="left:790.45px;top:439.46px;font-size:8.65px;line-height:10.38px;color:#a9aeb6;letter-spacing:0.547px;-webkit-text-stroke:0.05px currentColor;transform:scaleX(1.1000);transform-origin:0 0;">Management</div>
<div class="t" style="left:791.58px;top:479.87px;font-size:11.92px;line-height:14.3px;color:#2a2a2a;letter-spacing:0.109px;-webkit-text-stroke:0.2px currentColor;transform:scaleX(1.1000);transform-origin:0 0;">Abubakar Ismaila Goje</div>
<div class="t" style="left:791.21px;top:498.86px;font-size:8.65px;line-height:10.38px;color:#a9aeb6;letter-spacing:0.610px;-webkit-text-stroke:0.05px currentColor;transform:scaleX(1.1000);transform-origin:0 0;">Admin</div>
<div class="t" style="left:791.58px;top:539.27px;font-size:11.92px;line-height:14.3px;color:#2a2a2a;letter-spacing:0.109px;-webkit-text-stroke:0.2px currentColor;transform:scaleX(1.1000);transform-origin:0 0;">Abubakar Ismaila Goje</div>
<div class="t" style="left:790.45px;top:558.26px;font-size:8.65px;line-height:10.38px;color:#a9aeb6;letter-spacing:0.156px;-webkit-text-stroke:0.05px currentColor;transform:scaleX(1.1000);transform-origin:0 0;">Human Resource Dept.</div>
<div class="t" style="left:830.23px;top:596.92px;font-size:9.96px;line-height:11.95px;color:#557a6c;letter-spacing:0.141px;-webkit-text-stroke:0.15px currentColor;transform:scaleX(1.1000);transform-origin:0 0;">View All Employees</div></body></html>
